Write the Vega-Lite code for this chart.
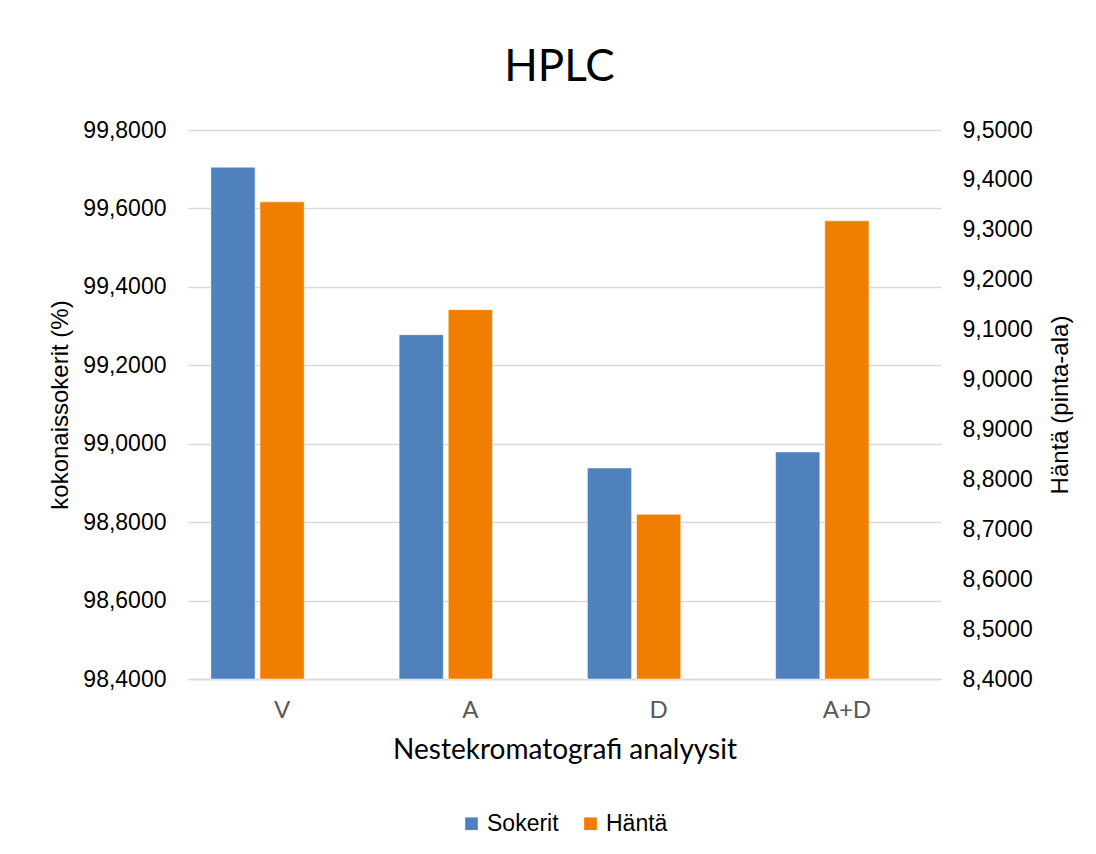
{
  "$schema": "https://vega.github.io/schema/vega-lite/v6.json",
  "width": 753,
  "height": 549,
  "autosize": {"type": "none"},
  "padding": {"left": 188, "top": 130, "right": 155, "bottom": 175},
  "background": "white",
  "config": {
    "locale": {"number": {"decimal": ",", "thousands": " ", "grouping": [3], "currency": ["", " €"]}},
    "view": {"stroke": null},
    "axis": {"labelFont": "Liberation Sans", "titleFont": "Liberation Sans", "titleFontWeight": "normal", "labelColor": "#000000", "titleColor": "#000000"}
  },
  "title": {
    "text": "HPLC",
    "font": "Lato",
    "fontSize": 44,
    "fontWeight": "normal",
    "color": "#000000",
    "baseline": "alphabetic",
    "offset": -6,
    "dx": -5,
    "anchor": "middle"
  },
  "data": {
    "values": [
      {"analyysi": "V", "sarja": "Sokerit", "arvo": 99.705},
      {"analyysi": "A", "sarja": "Sokerit", "arvo": 99.278},
      {"analyysi": "D", "sarja": "Sokerit", "arvo": 98.938},
      {"analyysi": "A+D", "sarja": "Sokerit", "arvo": 98.979},
      {"analyysi": "V", "sarja": "Häntä", "arvo": 9.356},
      {"analyysi": "A", "sarja": "Häntä", "arvo": 9.140},
      {"analyysi": "D", "sarja": "Häntä", "arvo": 8.730},
      {"analyysi": "A+D", "sarja": "Häntä", "arvo": 9.318}
    ]
  },
  "encoding": {
    "x": {
      "field": "analyysi",
      "type": "nominal",
      "sort": ["V", "A", "D", "A+D"],
      "scale": {"paddingInner": 0.243, "paddingOuter": 0.1215},
      "axis": {
        "title": "Nestekromatografi analyysit",
        "titleFont": "Lato",
        "titleFontSize": 28,
        "titlePadding": 14,
        "labelFont": "Lato",
        "labelFontSize": 24,
        "labelColor": "#595959",
        "labelAngle": 0,
        "labelPadding": 19,
        "ticks": false,
        "domain": true,
        "domainColor": "#d9d9d9",
        "domainWidth": 1.3,
        "grid": false
      }
    },
    "xOffset": {
      "field": "sarja",
      "type": "nominal",
      "scale": {"domain": ["Sokerit", "Häntä", "tyhjä"], "paddingInner": 0.1, "paddingOuter": 0}
    },
    "color": {
      "field": "sarja",
      "type": "nominal",
      "scale": {"domain": ["Sokerit", "Häntä"], "range": ["#4F81BD", "#F07E00"]},
      "legend": {
        "title": null,
        "orient": "none",
        "direction": "horizontal",
        "legendX": 272,
        "legendY": 682,
        "symbolType": "square",
        "symbolSize": 160,
        "symbolStrokeWidth": 0,
        "labelFont": "Liberation Sans",
        "labelFontSize": 23,
        "labelColor": "#000000",
        "labelOffset": 4,
        "columnPadding": 20
      }
    }
  },
  "layer": [
    {
      "transform": [{"filter": "datum.sarja === 'Sokerit'"}],
      "mark": {"type": "bar", "stroke": "white", "strokeWidth": 1, "strokeOpacity": 0.5},
      "encoding": {
        "y": {
          "field": "arvo",
          "type": "quantitative",
          "scale": {"domain": [98.4, 99.8], "nice": false, "zero": false, "clamp": true},
          "axis": {
            "orient": "left",
            "title": "kokonaissokerit (%)",
            "titleFontSize": 24,
            "titlePadding": 10,
            "labelFontSize": 23,
            "labelPadding": 22,
            "values": [98.4, 98.6, 98.8, 99.0, 99.2, 99.4, 99.6, 99.8],
            "format": ".4f",
            "ticks": false,
            "domain": false,
            "grid": true,
            "gridColor": "#d9d9d9",
            "gridWidth": 1.3
          }
        }
      }
    },
    {
      "transform": [{"filter": "datum.sarja === 'Häntä'"}],
      "mark": {"type": "bar", "stroke": "white", "strokeWidth": 1, "strokeOpacity": 0.5},
      "encoding": {
        "y": {
          "field": "arvo",
          "type": "quantitative",
          "scale": {"domain": [8.4, 9.5], "nice": false, "zero": false, "clamp": true},
          "axis": {
            "orient": "right",
            "title": "Häntä (pinta-ala)",
            "titleFontSize": 24,
            "titleAngle": -90,
            "titleBaseline": "top",
            "titlePadding": 16,
            "labelFontSize": 23,
            "labelPadding": 21,
            "values": [8.4, 8.5, 8.6, 8.7, 8.8, 8.9, 9.0, 9.1, 9.2, 9.3, 9.4, 9.5],
            "format": ".4f",
            "ticks": false,
            "domain": false,
            "grid": false
          }
        }
      }
    }
  ],
  "resolve": {"scale": {"y": "independent"}, "axis": {"y": "independent"}}
}
